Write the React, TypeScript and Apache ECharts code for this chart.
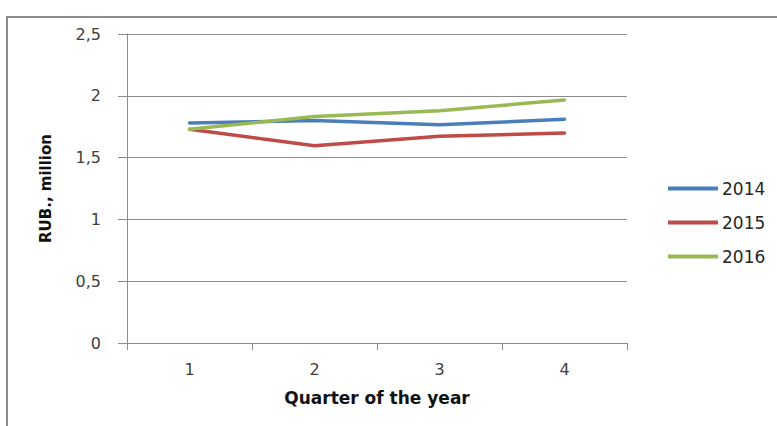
import React, { useEffect, useRef } from "react";
import * as echarts from "echarts";

const quarters = ["1", "2", "3", "4"];
const s2014 = [1.78, 1.8, 1.765, 1.81];
const s2015 = [1.73, 1.595, 1.672, 1.699];
const s2016 = [1.73, 1.832, 1.88, 1.966];
const seriesNames = ["2014", "2015", "2016"];
const seriesColors = ["#4a7ebb", "#be4b48", "#98b954"];

const FONT = "'DejaVu Sans', 'Liberation Sans', sans-serif";

export default function App() {
  const ref = useRef<HTMLDivElement>(null);
  useEffect(() => {
    if (!ref.current) return;
    const chart = echarts.init(ref.current, undefined, { renderer: "svg" });
    const data = [s2014, s2015, s2016];
    chart.setOption({
      animation: false,
      backgroundColor: "#ffffff",
      textStyle: { fontFamily: FONT },
      graphic: [
        {
          type: "polyline",
          shape: { points: [[7, 426], [7, 17], [777, 17]] },
          style: { stroke: "#8c8c8c", lineWidth: 2, fill: "none" },
          silent: true,
        },
      ],
      grid: { left: 127, right: 150, top: 34, bottom: 83 },
      legend: {
        orient: "vertical",
        left: 663,
        top: 175,
        icon: "rect",
        itemWidth: 50,
        itemHeight: 4,
        itemGap: 17,
        data: seriesNames,
        textStyle: { fontSize: 17, color: "#262626", fontFamily: FONT, padding: [0, 0, 0, -1] },
      },
      xAxis: {
        type: "category",
        data: quarters,
        boundaryGap: true,
        name: "Quarter of the year",
        nameLocation: "middle",
        nameGap: 46,
        nameTextStyle: { fontSize: 17, fontWeight: "bold", color: "#111", fontFamily: FONT },
        axisLine: { lineStyle: { color: "#8c8c8c", width: 1 } },
        axisTick: { show: true, length: 7, lineStyle: { color: "#8c8c8c" } },
        axisLabel: { fontSize: 16, color: "#404040", margin: 18, fontFamily: FONT },
      },
      yAxis: {
        type: "value",
        min: 0,
        max: 2.5,
        interval: 0.5,
        name: "RUB., million",
        nameLocation: "middle",
        nameGap: 74,
        nameTextStyle: { fontSize: 15, fontWeight: "bold", color: "#111", fontFamily: FONT },
        axisLine: { show: true, lineStyle: { color: "#8c8c8c", width: 1 } },
        axisTick: { show: true, length: 9, lineStyle: { color: "#8c8c8c" } },
        axisLabel: {
          fontSize: 16,
          color: "#404040",
          margin: 26,
          fontFamily: FONT,
          formatter: (v: number) => String(v).replace(".", ","),
        },
        splitLine: { show: true, lineStyle: { color: "#8c8c8c", width: 1 } },
      },
      series: seriesNames.map((name, i) => ({
        name,
        type: "line",
        data: data[i],
        symbol: "none",
        color: seriesColors[i],
        lineStyle: { color: seriesColors[i], width: 3.5, cap: "round", join: "round" },
      })),
    });
    return () => chart.dispose();
  }, []);
  return (
    <div
      ref={ref}
      style={{ position: "fixed", left: 0, top: 0, width: 777, height: 426 }}
    />
  );
}
